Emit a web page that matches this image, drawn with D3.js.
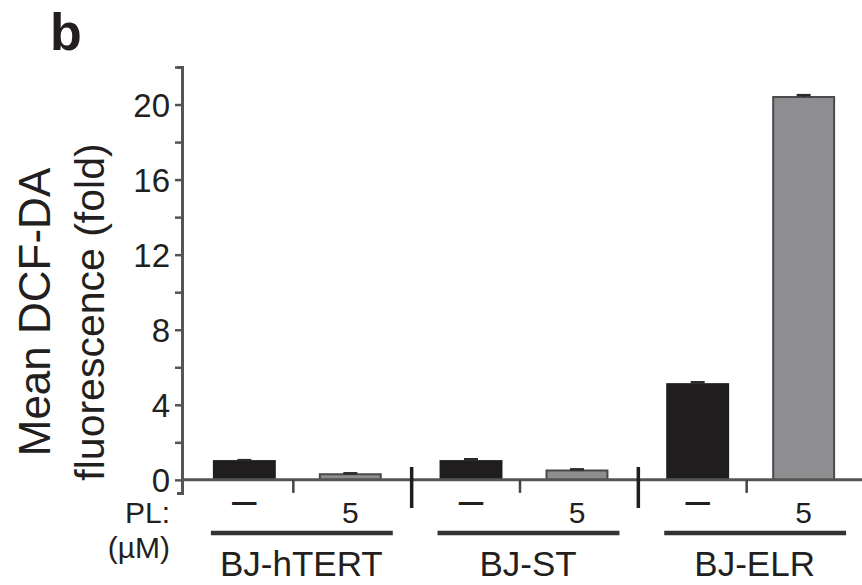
<!DOCTYPE html>
<html>
<head>
<meta charset="utf-8">
<style>
  body { margin: 0; background: #fff; }
  text { font-family: "Liberation Sans", Arial, sans-serif; fill: #231f20; }
</style>
</head>
<body>
<svg width="862" height="585"></svg>
<script src="https://d3js.org/d3.v7.min.js"></script>
<script>

// Mean DCF-DA fluorescence (fold), with and without PL, per cell line

var groups = ["BJ-hTERT", "BJ-ST", "BJ-ELR"];
var doses = ["\u2013", "5"];
var untreated = [1.0, 1.0, 5.1];
var untreatedErr = [0.05, 0.1, 0.1];
var treated = [0.3, 0.5, 20.4];
var treatedErr = [0.05, 0.06, 0.1];
var yTicks = [0, 2, 4, 6, 8, 10, 12, 14, 16, 18, 20, 22];

var data = [];
groups.forEach(function(g, i) {
  data.push({group: g, dose: doses[0], value: untreated[i], err: untreatedErr[i]});
  data.push({group: g, dose: doses[1], value: treated[i], err: treatedErr[i]});
});

var svg = d3.select("svg");

var y = d3.scaleLinear().domain([-0.7, 22]).range([493, 67]);
var x0 = d3.scaleBand().domain(groups).range([184, 864]);
var x1 = d3.scaleBand().domain(doses).range([0, x0.bandwidth()])
    .paddingInner(0.425).paddingOuter(0.282);

function cx(d) { return x0(d.group) + x1(d.dose) + x1.bandwidth() / 2; }

// panel letter
svg.append("text")
    .attr("x", 50).attr("y", 50)
    .attr("font-size", 52).attr("font-weight", "bold")
    .text("b");

// y axis
var yAxis = svg.append("g")
    .attr("transform", "translate(182,0)")
    .call(d3.axisLeft(y)
      .tickValues(yTicks)
      .tickSize(7)
      .tickSizeOuter(5)
      .tickFormat(function(d) { return d % 4 === 0 ? d : ""; }));

yAxis.select(".domain").attr("stroke", "#555").attr("stroke-width", 3);
yAxis.selectAll(".tick line").attr("stroke", "#555").attr("stroke-width", 2.5);
yAxis.selectAll(".tick text")
    .attr("font-size", 33)
    .attr("font-family", "Liberation Sans, Arial, sans-serif")
    .attr("fill", "#231f20")
    .attr("x", -12)
    .attr("dy", "0.36em");

// y label, two lines
var yLabel = svg.append("text")
    .attr("transform", "translate(0,312) rotate(-90)")
    .attr("text-anchor", "middle");
yLabel.append("tspan").attr("x", 0).attr("y", 50)
    .attr("font-size", 44).text("Mean DCF-DA");
yLabel.append("tspan").attr("x", 0).attr("y", 104)
    .attr("font-size", 41).text("fluorescence (fold)");

// bars
svg.selectAll(".bar")
  .data(data)
  .enter().append("rect")
    .attr("class", "bar")
    .attr("x", function(d) { return x0(d.group) + x1(d.dose); })
    .attr("width", x1.bandwidth())
    .attr("y", function(d) { return y(d.value); })
    .attr("height", function(d) { return y(0) - y(d.value); })
    .attr("fill", function(d) { return d.dose === doses[0] ? "#1f1d1e" : "#8e8e91"; })
    .attr("stroke", function(d) { return d.dose === doses[0] ? "#1f1d1e" : "#4a4a4c"; })
    .attr("stroke-width", 2);

// error bars
var eb = svg.selectAll(".err")
  .data(data)
  .enter().append("g")
    .attr("class", "err");
eb.append("line")
    .attr("x1", cx).attr("x2", cx)
    .attr("y1", function(d) { return y(d.value); })
    .attr("y2", function(d) { return y(d.value + d.err); })
    .attr("stroke", "#2a2a2a").attr("stroke-width", 2);
eb.append("line")
    .attr("x1", function(d) { return cx(d) - 7; })
    .attr("x2", function(d) { return cx(d) + 7; })
    .attr("y1", function(d) { return y(d.value + d.err); })
    .attr("y2", function(d) { return y(d.value + d.err); })
    .attr("stroke", "#2a2a2a").attr("stroke-width", 2.5);

// baseline
svg.append("line")
    .attr("x1", 182).attr("x2", 862)
    .attr("y1", y(0)).attr("y2", y(0))
    .attr("stroke", "#555").attr("stroke-width", 3);

// small ticks between the two bars of a group
svg.selectAll(".midtick")
  .data(groups)
  .enter().append("line")
    .attr("x1", function(g) { return x0(g) + x0.bandwidth() / 2 - 4; })
    .attr("x2", function(g) { return x0(g) + x0.bandwidth() / 2 - 4; })
    .attr("y1", y(0)).attr("y2", y(0) + 13)
    .attr("stroke", "#444").attr("stroke-width", 2.5);

// dividers between groups
svg.selectAll(".divider")
  .data(groups.slice(1))
  .enter().append("line")
    .attr("x1", function(g) { return x0(g) + 1; })
    .attr("x2", function(g) { return x0(g) + 1; })
    .attr("y1", 467).attr("y2", 508)
    .attr("stroke", "#1f1d1e").attr("stroke-width", 3.5);

// dose labels
svg.selectAll(".dose")
  .data(data)
  .enter().append("text")
    .attr("x", cx)
    .attr("y", function(d) { return d.dose === doses[0] ? 515 : 523; })
    .attr("text-anchor", "middle")
    .attr("font-size", function(d) { return d.dose === doses[0] ? 44 : 30; })
    .text(function(d) { return d.dose; });

svg.append("text")
    .attr("x", 170).attr("y", 523)
    .attr("text-anchor", "end")
    .attr("font-size", 30)
    .text("PL:");
svg.append("text")
    .attr("x", 170).attr("y", 558)
    .attr("text-anchor", "end")
    .attr("font-size", 30)
    .text("(\u00b5M)");

// group underlines and names
svg.selectAll(".underline")
  .data(groups)
  .enter().append("line")
    .attr("x1", function(g) { return x0(g) + x1(doses[0]) - 3; })
    .attr("x2", function(g) { return x0(g) + x1(doses[1]) + x1.bandwidth() + 12; })
    .attr("y1", 533).attr("y2", 533)
    .attr("stroke", "#333").attr("stroke-width", 4.5);

svg.selectAll(".grp")
  .data(groups)
  .enter().append("text")
    .attr("x", function(g) { return x0(g) + x0.bandwidth() / 2 + 4; })
    .attr("y", 576)
    .attr("text-anchor", "middle")
    .attr("font-size", 35)
    .text(function(g) { return g; });

</script>
</body>
</html>
